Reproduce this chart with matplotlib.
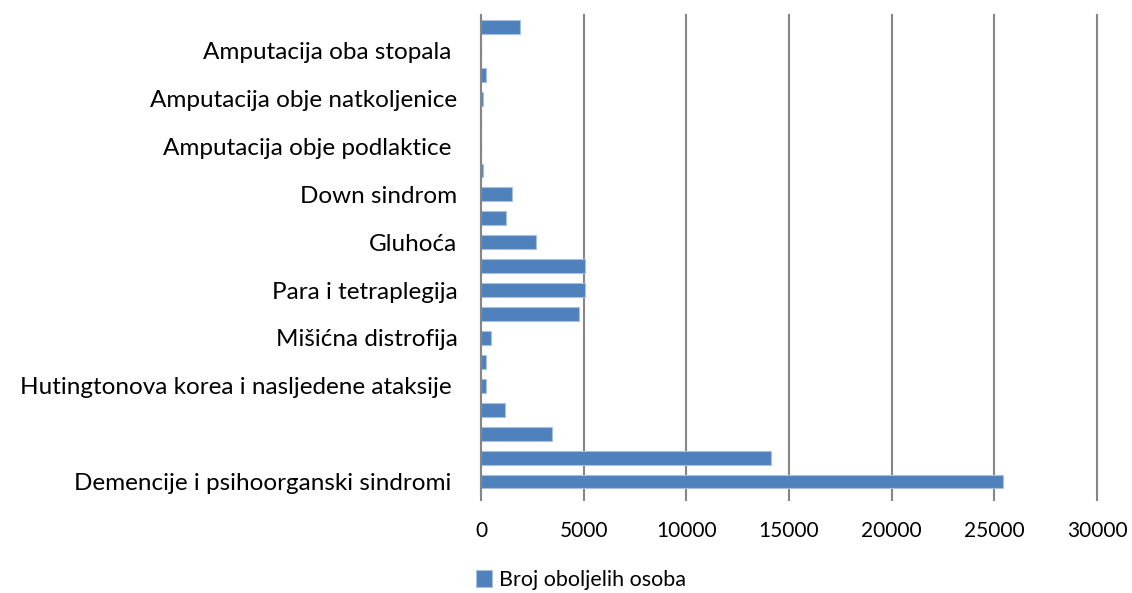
import matplotlib.pyplot as plt
import numpy as np

# categories from bottom to top (only every other one is labelled in the original)
categories = [
    'Demencije i psihoorganski sindromi ', '', '', '',
    'Hutingtonova korea i nasljedene ataksije ', '',
    'Mišićna distrofija', '', 'Para i tetraplegija', '',
    'Gluhoća', '', 'Down sindrom', '',
    'Amputacija obje podlaktice ', '', 'Amputacija obje natkoljenice', '',
    'Amputacija oba stopala ', '',
]
values = [25400, 14100, 3450, 1180, 230, 240, 490, 4780, 5070, 5070,
          2700, 1240, 1520, 80, 0, 0, 80, 230, 20, 1880]
series_name = 'Broj oboljelih osoba'
xticks = [0, 5000, 10000, 15000, 20000, 25000, 30000]

plt.rcParams['font.family'] = ['Lato', 'DejaVu Sans']

fig = plt.figure(figsize=(11.32, 5.93), dpi=100)
ax = fig.add_axes([481 / 1132, 1 - 493.5 / 593, 616 / 1132, 478.5 / 593])

y = np.arange(len(values))
ax.barh(y, values, height=0.58, color='#4F81BD', edgecolor='#A7C0DE',
        linewidth=0.8, label=series_name, zorder=3)

ax.set_xlim(0, 30000)
ax.set_ylim(-0.5, len(values) - 0.5)
ax.set_xticks(xticks)
ax.set_xticklabels([str(t) for t in xticks], fontsize=15)
ax.set_yticks(y)
ax.set_yticklabels(categories, fontsize=17.5)

ax.grid(axis='x', color='#868686', linewidth=1.5, zorder=0)
for line in ax.get_xgridlines():
    line.set_clip_on(False)
for s in ['top', 'right', 'bottom']:
    ax.spines[s].set_visible(False)
ax.spines['left'].set_color('#868686')
ax.spines['left'].set_linewidth(1.5)
ax.spines['left'].set_zorder(4)
ax.tick_params(axis='y', length=0, pad=17)
ax.tick_params(axis='x', length=5, width=1.5, color='#868686', pad=15)

fig.legend(loc='center', bbox_to_anchor=(0.513, 0.022), frameon=False,
           fontsize=15.5, handlelength=0.75, handleheight=0.8, handletextpad=0.3)

fig.savefig('out.png', dpi=100)
